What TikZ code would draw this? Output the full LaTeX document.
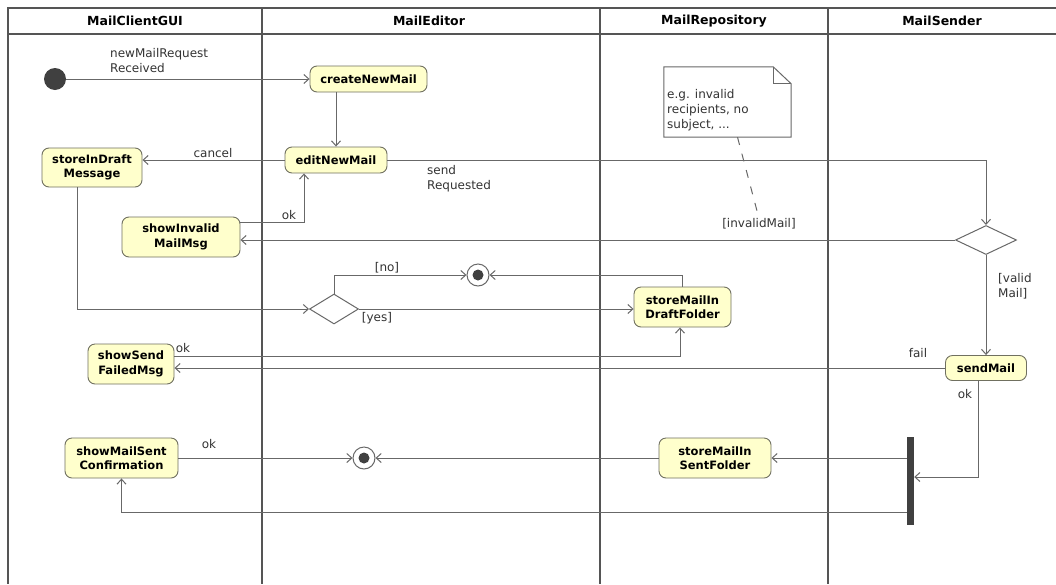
\documentclass[tikz,border=0pt]{standalone}
\usepackage{fontspec}
\setmainfont{DejaVu Sans}
\usetikzlibrary{arrows.meta,shapes.geometric}
\definecolor{actfill}{HTML}{FFFFCC}
\definecolor{actline}{HTML}{707060}
\definecolor{lineg}{HTML}{686868}
\definecolor{frameg}{HTML}{555555}
\definecolor{darkfill}{HTML}{404040}
\definecolor{txt}{HTML}{333333}
\begin{document}
\begin{tikzpicture}[x=1pt,y=-1pt,
  act/.style={draw=actline, fill=actfill, rounded corners=7pt, line width=0.9pt, align=center,
    font=\fontsize{11.5}{14.5}\selectfont\bfseries, inner sep=0pt, text=black},
  lbl/.style={font=\fontsize{12}{15}\selectfont, text=txt, inner sep=0pt},
  hdr/.style={font=\fontsize{12.5}{14}\selectfont\bfseries, text=black},
  conn/.style={draw=lineg, line width=1pt, -{Straight Barb[length=5pt,width=9pt]}},
  plain/.style={draw=lineg, line width=1pt},
  frameline/.style={draw=frameg, line width=2.2pt},
  dec/.style={diamond, draw=lineg, line width=1pt, fill=white, inner sep=0pt},
  finalnode/.style={circle, draw=lineg, line width=1pt, fill=white, minimum size=22pt, inner sep=0pt},
]
\useasboundingbox (0,0) rectangle (1056,584);
\fill[white] (0,0) rectangle (1056,584);

% swimlane frame
\draw[frameline] (1056,8) -- (8,8) -- (8,584);
\draw[frameline] (8,34) -- (1056,34);
\draw[frameline] (262,8) -- (262,584);
\draw[frameline] (600,8) -- (600,584);
\draw[frameline] (828,8) -- (828,584);

\node[hdr] (h1) at (135,21) {MailClientGUI};
\node[hdr] (h2) at (429,21) {MailEditor};
\node[hdr] (h3) at (714,21) {MailRepository};
\node[hdr] (h4) at (942,21) {MailSender};

% activities
\node[act, minimum width=117, minimum height=26] (create) at (368.5,79) {createNewMail};
\node[act, minimum width=102, minimum height=26] (edit) at (336,160) {editNewMail};
\node[act, minimum width=100, minimum height=39] (sdm) at (92,167.5) {storeInDraft\\Message};
\node[act, minimum width=118, minimum height=40] (inv) at (181,237) {showInvalid\\MailMsg};
\node[act, minimum width=97, minimum height=40] (sdf) at (682.5,307) {storeMailIn\\DraftFolder};
\node[act, minimum width=86, minimum height=40] (ssf) at (131,364) {showSend\\FailedMsg};
\node[act, minimum width=81, minimum height=25] (send) at (986,368) {sendMail};
\node[act, minimum width=112, minimum height=40] (ssent) at (715,458) {storeMailIn\\SentFolder};
\node[act, minimum width=113, minimum height=40] (ssc) at (121.5,458) {showMailSent\\Confirmation};

% control nodes
\node[circle, fill=darkfill, minimum size=22pt, inner sep=0pt] (start) at (55,79) {};
\node[dec, minimum width=61, minimum height=29] (vdec) at (986,240) {};
\node[dec, minimum width=49, minimum height=30] (ddec) at (334,309) {};
\node[finalnode] (fin1) at (478,275) {};
\fill[darkfill] (fin1.center) circle (5.5);
\node[finalnode] (fin2) at (364,458) {};
\fill[darkfill] (fin2.center) circle (5.5);
\node[fill=darkfill, minimum width=7, minimum height=88, inner sep=0pt] (fork) at (910.5,481) {};

% bend coordinates
\coordinate (okc) at (304,222);
\coordinate (b1) at (77,309);
\coordinate (b2) at (680,356);
\coordinate (b3) at (978,477);
\coordinate (b4) at (121.5,512);

% connectors
\draw[conn] (start) -- (create);
\draw[conn] (edit.north |- create.south) -- (edit.north);
\draw[conn] (edit.west) -- (sdm.east |- edit.west);
\draw[conn] (edit.east) -| (vdec.north);
\draw[conn] (vdec.west) -- (inv.east |- vdec.west);
\draw[conn] (inv.east |- okc) -- (okc) -- (okc |- edit.south);
\draw[conn] (b1 |- sdm.south) -- (b1) -- (ddec.west);
\draw[conn] (ddec.north) |- (fin1.west);
\draw[conn] (sdf.north) |- (fin1.east);
\draw[conn] (ddec.east) -- (sdf.west |- ddec.east);
\draw[conn] (ssf.east |- b2) -- (b2) -- (b2 |- sdf.south);
\draw[conn] (vdec.south) -- (send.north);
\draw[conn] (send.west) -- (ssf.east |- send.west);
\draw[conn] (b3 |- send.south) -- (b3) -- (fork.east |- b3);
\draw[conn] (fork.west |- ssent.east) -- (ssent.east);
\draw[conn] (ssent.west) -- (fin2.east);
\draw[conn] (ssc.east) -- (fin2.west);
\draw[conn] (fork.west |- b4) -- (b4) -- (ssc.south);

% labels
\node[lbl, anchor=north west, align=left] (l1) at (110,48) {newMailRequest\\Received};
\node[lbl] (l2) at (213,153) {cancel};
\node[lbl, anchor=north west, align=left] (l3) at (427,165) {send\\Requested};
\node[lbl] (l4) at (289,215) {ok};
\node[lbl] (linv) at (759,224) {[invalidMail]};
\node[lbl] (l6) at (387,268) {[no]};
\node[lbl] (l7) at (377,318) {[yes]};
\node[lbl, anchor=north west, align=left] (l8) at (998,273) {[valid\\Mail]};
\node[lbl] (l9) at (183,348) {ok};
\node[lbl] (l10) at (918,353) {fail};
\node[lbl] (l11) at (965,394) {ok};
\node[lbl] (l12) at (209,444) {ok};

% note
\node[minimum width=127, minimum height=70, inner sep=0pt] (note) at (727.5,102) {};
\draw[plain, fill=white] (note.south west) -- (note.north west) -- ([xshift=-18pt]note.north east)
  -- ([yshift=-17pt]note.north east) -- (note.south east) -- cycle;
\draw[plain] ([xshift=-18pt]note.north east) -- ++(0,17) -- ([yshift=-17pt]note.north east);
\node[lbl, anchor=west, align=left] (notetxt) at (667,110) {e.g. invalid\\recipients, no\\subject, ...};
\draw[plain, dash pattern=on 8pt off 9pt] ([xshift=10pt]note.south) -- (linv.north);
\end{tikzpicture}
\end{document}
